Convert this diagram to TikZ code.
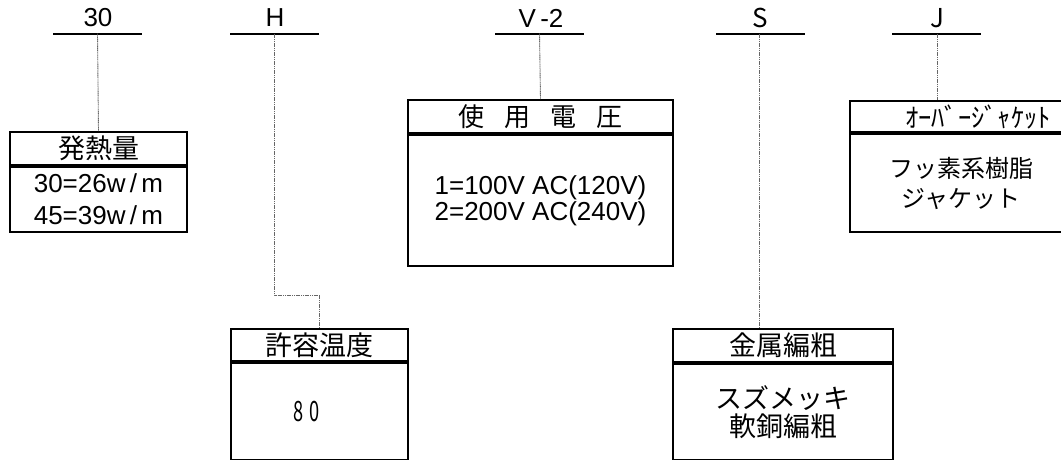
\documentclass[tikz,border=0pt]{standalone}
\usepackage{fontspec}
\setmainfont{Liberation Sans}
\newfontfamily\jp{Noto Sans CJK JP}
\begin{document}
\begin{tikzpicture}[x=1pt,y=-1pt,
  bar/.style={line width=2pt},
  conn/.style={line width=0.9pt, black!60, dash pattern=on 1.2pt off 0.6pt},
  box/.style={draw, line width=2pt, inner sep=0pt, anchor=north west, align=center},
  lbl/.style={inner sep=0pt, font=\fontsize{26}{26}\selectfont},
  jlbl/.style={inner sep=0pt, font=\jp\fontsize{26}{26}\selectfont},
  jpf/.style={font=\jp\fontsize{27}{28}\selectfont}
]
\clip (0,0) rectangle (1061,459);
\fill[white] (0,0) rectangle (1061,459);

% top labels with bars
\node[lbl] (l30) at (98,18) {30};
\draw[bar] (53,33.5) -- (142,33.5);
\coordinate (b30) at (97.5,33.5);

\node[lbl] (lH) at (275,18) {H};
\draw[bar] (230,33.5) -- (319,33.5);
\coordinate (bH) at (274.5,33.5);

\node[lbl] (lV) at (541,18) {V\,-2};
\draw[bar] (495,33.5) -- (584,33.5);
\coordinate (bV) at (539.5,33.5);

\node[jlbl] (lS) at (760,18) {S};
\draw[bar] (716,33.5) -- (805,33.5);
\coordinate (bS) at (759.5,33.5);

\node[jlbl] (lJ) at (937,18) {J};
\draw[bar] (892,33.5) -- (981,33.5);
\coordinate (bJ) at (937,33.5);

% boxes
\node[box, minimum width=177pt, minimum height=33pt, jpf] (h1) at (9,131) {発熱量};
\node[box, minimum width=177pt, minimum height=65pt, font=\fontsize{26}{32}\selectfont] (d1) at (h1.south west) {30=26w\,/\,m\\45=39w\,/\,m};

\node[box, minimum width=265pt, minimum height=33pt, font=\jp\fontsize{26}{26}\selectfont] (h2) at (407,99) {使\hspace{20pt}用\hspace{20pt}電\hspace{20pt}圧};
\node[box, minimum width=265pt, minimum height=131pt, font=\fontsize{26}{26}\selectfont] (d2) at (h2.south west) {1=100V AC(120V)\\2=200V AC(240V)};

\node[box, minimum width=222pt, minimum height=31pt, font=\jp\fontsize{26.5}{26.5}\selectfont] (h3) at (849,100) {\hspace{34pt}ｵｰﾊﾞｰｼﾞｬｹｯﾄ};
\node[box, minimum width=222pt, minimum height=98pt, font=\jp\fontsize{24}{30}\selectfont] (d3) at (h3.south west) {フッ素系樹脂\\ジャケット};

\node[box, minimum width=177pt, minimum height=32pt, jpf] (h4) at (230,328) {許容温度};
\node[box, minimum width=177pt, minimum height=97pt, font=\jp\fontsize{28}{28}\selectfont] (d4) at (h4.south west) {\scalebox{0.65}[1]{8}\hspace{6pt}\scalebox{0.65}[1]{0}\hspace{26pt}};

\node[box, minimum width=220pt, minimum height=33pt, jpf] (h5) at (672,328) {金属編粗};
\node[box, minimum width=220pt, minimum height=96pt, font=\jp\fontsize{27}{28}\selectfont] (d5) at (h5.south west) {スズメッキ\\軟銅編粗};

% connectors
\coordinate (kH) at (274.5,295);
\draw[conn] (b30) -- (h1.north);
\draw[conn] (bH) -- (kH) -| (h4.north);
\draw[conn] (bV) -- (h2.north);
\draw[conn] (bS) -- (bS |- h5.north);
\draw[conn] (bJ) -- (bJ |- h3.north);
\end{tikzpicture}
\end{document}
